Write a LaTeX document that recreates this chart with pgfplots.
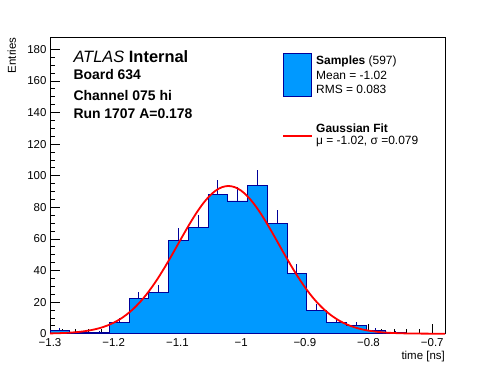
\documentclass[border=0pt]{standalone}
\usepackage{fontspec}
\setmainfont{Liberation Sans}
\usepackage{pgfplots}
\pgfplotsset{compat=1.18}
\definecolor{histblue}{RGB}{0,153,255}
\definecolor{histnavy}{RGB}{0,0,153}
\definecolor{fitred}{RGB}{255,0,0}
\begin{document}
\begin{tikzpicture}
\path[use as bounding box] (0,0) rectangle (496bp,372bp);
\begin{axis}[
  at={(50bp,38.3bp)}, anchor=south west,
  scale only axis, width=395bp, height=296.4bp,
  xmin=-1.3, xmax=-0.68, ymin=0, ymax=187.6,
  clip=false,
  axis line style={line width=0.8bp},
  tick style={line width=0.8bp, black},
  tick align=inside,
  major tick length=9.5bp, minor tick length=5bp,
  xtick pos=bottom, ytick pos=left,
  xtick={-1.3,-1.2,-1.1,-1.0,-0.9,-0.8,-0.7},
  xticklabels={{−1.3},{−1.2},{−1.1},{−1},{−0.9},{−0.8},{−0.7}},
  minor x tick num=4,
  ytick={0,20,40,60,80,100,120,140,160,180},
  yticklabels={0,20,40,60,80,100,120,140,160,180},
  minor y tick num=3,
  ticklabel style={font=\fontsize{11.5}{13}\selectfont},
  xticklabel style={yshift=-1bp},
  xlabel={time [ns]},
  xlabel style={at={(axis description cs:1,-0.0864)}, anchor=base east, font=\fontsize{11.5}{13}\selectfont, inner sep=0pt},
  ylabel={Entries},
  ylabel style={at={(axis description cs:-0.0861,1)}, anchor=base east, font=\fontsize{11.5}{13}\selectfont, inner sep=0pt},
]
% statistical error bars (sqrt N), drawn below the filled histogram
\addplot[draw=none, mark=none,
  error bars/.cd, y dir=both, y explicit, error mark=none,
  error bar style={draw=histnavy, line width=0.9bp}]
coordinates {
(-1.2845,2) +- (0,1.414)
(-1.2535,1) +- (0,1.000)
(-1.2225,1) +- (0,1.000)
(-1.1915,7) +- (0,2.646)
(-1.1605,22) +- (0,4.690)
(-1.1295,26) +- (0,5.099)
(-1.0985,59) +- (0,7.681)
(-1.0675,67) +- (0,8.185)
(-1.0365,88) +- (0,9.381)
(-1.0055,84) +- (0,9.165)
(-0.9745,94) +- (0,9.695)
(-0.9435,70) +- (0,8.367)
(-0.9125,38) +- (0,6.164)
(-0.8815,15) +- (0,3.873)
(-0.8505,7) +- (0,2.646)
(-0.8195,5) +- (0,2.236)
(-0.7885,2) +- (0,1.414)
(-0.7575,1) +- (0,1.000)
};
% histogram
\addplot[const plot mark left, fill=histblue, draw=histnavy, line width=0.9bp]
coordinates {
(-1.300,2) (-1.269,1) (-1.238,1) (-1.207,7) (-1.176,22) (-1.145,26)
(-1.114,59) (-1.083,67) (-1.052,88) (-1.021,84) (-0.990,94) (-0.959,70)
(-0.928,38) (-0.897,15) (-0.866,7) (-0.835,5) (-0.804,2) (-0.773,1)
(-0.742,0) (-0.711,0) (-0.680,0)
} \closedcycle;
% Gaussian fit (mu=-1.02, sigma=0.079), tabulated
\addplot[color=fitred, line width=1.8bp, smooth]
coordinates {
(-1.30,0.18) (-1.29,0.27) (-1.28,0.42) (-1.27,0.63) (-1.26,0.93) (-1.25,1.35)
(-1.24,1.94) (-1.23,2.73) (-1.22,3.79) (-1.21,5.18) (-1.20,6.97) (-1.19,9.23)
(-1.18,12.03) (-1.17,15.41) (-1.16,19.45) (-1.15,24.14) (-1.14,29.50) (-1.13,35.46)
(-1.12,41.97) (-1.11,48.86) (-1.10,55.99) (-1.09,63.14) (-1.08,70.07) (-1.07,76.53)
(-1.06,82.25) (-1.05,87.00) (-1.04,90.55) (-1.03,92.75) (-1.02,93.50) (-1.01,92.75)
(-1.00,90.55) (-0.99,87.00) (-0.98,82.25) (-0.97,76.53) (-0.96,70.07) (-0.95,63.14)
(-0.94,55.99) (-0.93,48.86) (-0.92,41.97) (-0.91,35.46) (-0.90,29.50) (-0.89,24.14)
(-0.88,19.45) (-0.87,15.41) (-0.86,12.03) (-0.85,9.23) (-0.84,6.97) (-0.83,5.18)
(-0.82,3.79) (-0.81,2.73) (-0.80,1.94) (-0.79,1.35) (-0.78,0.93) (-0.77,0.63)
(-0.76,0.42) (-0.75,0.27) (-0.74,0.18) (-0.73,0.11) (-0.72,0.07) (-0.71,0.04)
(-0.70,0.02) (-0.69,0.01) (-0.68,0.01)
};
\end{axis}
% labels
\node[anchor=base west, inner sep=0pt] at (73.3bp,309.3bp) {\fontsize{16.5}{18}\selectfont\textit{ATLAS} \textbf{Internal}};
\node[anchor=base west, inner sep=0pt] at (73.3bp,292bp) {\fontsize{14}{16}\selectfont\textbf{Board 634}};
\node[anchor=base west, inner sep=0pt] at (73.3bp,271bp) {\fontsize{14}{16}\selectfont\textbf{Channel 075 hi}};
\node[anchor=base west, inner sep=0pt] at (73.3bp,253bp) {\fontsize{14}{16}\selectfont\textbf{Run 1707 A=0.178}};
% legend
\draw[fill=histblue, draw=histnavy, line width=0.9bp] (283.3bp,275.3bp) rectangle (311.7bp,318.7bp);
\draw[fitred, line width=1.8bp] (283.3bp,236bp) -- (311.7bp,236bp);
\node[anchor=base west, inner sep=0pt] at (316bp,307bp) {\fontsize{12}{14}\selectfont\textbf{Samples} (597)};
\node[anchor=base west, inner sep=0pt] at (316bp,292bp) {\fontsize{12}{14}\selectfont Mean = -1.02};
\node[anchor=base west, inner sep=0pt] at (316bp,278.7bp) {\fontsize{12}{14}\selectfont RMS = 0.083};
\node[anchor=base west, inner sep=0pt] at (316bp,239.3bp) {\fontsize{12}{14}\selectfont\textbf{Gaussian Fit}};
\node[anchor=base west, inner sep=0pt] at (316bp,227bp) {\fontsize{12}{14}\selectfont μ = -1.02, σ =0.079};
\end{tikzpicture}
\end{document}
